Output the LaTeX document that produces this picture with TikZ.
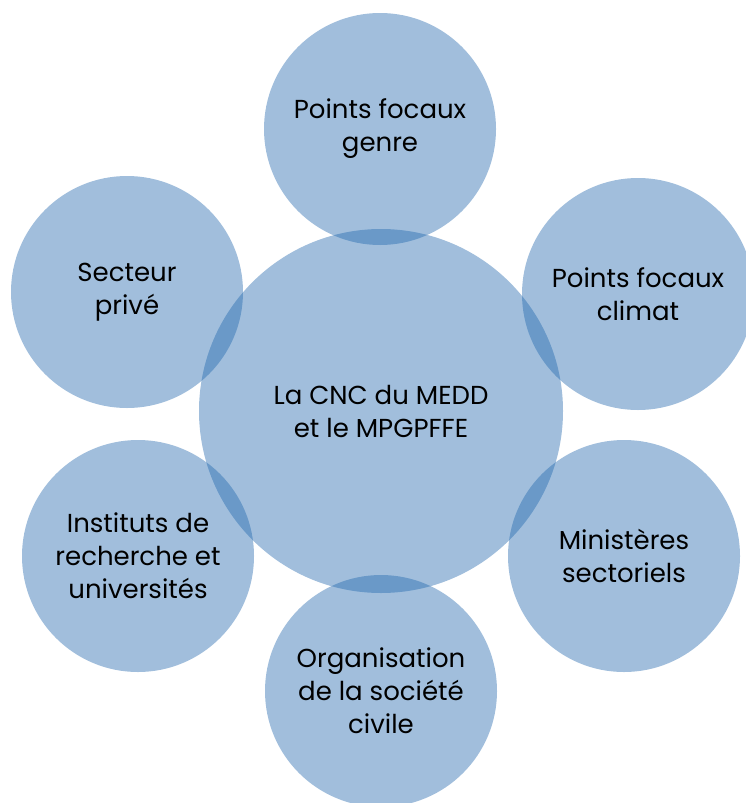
\documentclass[tikz,border=0pt]{standalone}
\usepackage{fontspec}
\setmainfont{Poppins}
\definecolor{bub}{RGB}{36,105,174}
\begin{document}
\begin{tikzpicture}[x=1pt,y=-1pt,
  bubble/.style={circle,fill=bub,fill opacity=0.43,text opacity=1,inner sep=0pt,
    align=center,font=\fontsize{26}{33}\selectfont,text=black},
  small/.style={bubble,minimum size=232pt},
  big/.style={bubble,minimum size=364pt}]
\useasboundingbox (0,0) rectangle (746,803);
\begin{scope}
\clip (0,0) rectangle (746,803);
\node[big]   (c)  at (381,411) {La CNC du MEDD\\et le MPGPFFE};
\node[small] (t)  at (380,129) {Points focaux\\genre};
\node[small] (tr) at (638,294) {Points focaux\\climat};
\node[small] (br) at (624,556) {Ministères\\sectoriels};
\node[small] (b)  at (381,691) {Organisation\\de la société\\civile};
\node[small] (bl) at (138,556) {Instituts de\\recherche et\\universités};
\node[small] (tl) at (127,292) {Secteur\\privé};
\end{scope}
\end{tikzpicture}
\end{document}
